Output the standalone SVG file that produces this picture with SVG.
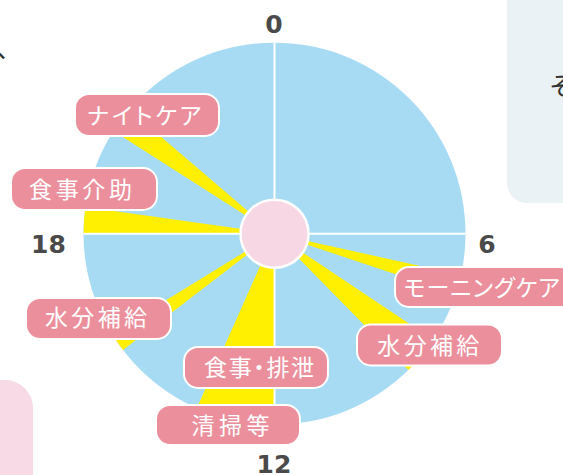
<svg xmlns="http://www.w3.org/2000/svg" width="563" height="475" viewBox="0 0 563 475">
  <style>
    .lbl rect { fill: #EC8F9D; stroke: #FFFFFF; stroke-width: 2; }
    .lbl text { fill: #FFFFFF; font-family: "Noto Sans CJK JP", "Noto Sans", sans-serif; font-size: 23px; text-anchor: middle; font-feature-settings: "palt"; }
    .hr { fill: #4A4A4A; font-family: "DejaVu Sans", "Liberation Sans", sans-serif; font-size: 25px; font-weight: bold; text-anchor: middle; }
    .wedge { fill: #FFEF00; }
    .axis { stroke: #FFFFFF; stroke-width: 2; }
    .frag { fill: #333333; font-family: "Noto Sans CJK JP", sans-serif; font-size: 26px; }
  </style>
  <rect width="563" height="475" fill="#FFFFFF"/>
  <!-- background panels -->
  <rect x="507" y="-30" width="100" height="233" rx="20" fill="#EBF2F6"/>
  <rect x="-60" y="380" width="93" height="150" rx="28" fill="#F8DAE6"/>
  <text class="frag" x="-4" y="58">、</text>
  <text class="frag" x="549" y="96">そ</text>

  <g id="clock">
    <circle cx="274.5" cy="233.7" r="191" fill="#A7DBF4"/>
    <g id="wedges">
      <path class="wedge" d="M274.5 233.7 L113.4 131.1 A191 191 0 0 1 129.3 109.7 Z"/>
      <path class="wedge" d="M274.5 233.7 L83.5 233.7 A191 191 0 0 1 85.4 207.1 Z"/>
      <path class="wedge" d="M274.5 233.7 L123.0 350.0 A191 191 0 0 1 111.7 333.5 Z"/>
      <path class="wedge" d="M274.5 233.7 L274.5 424.7 A191 191 0 0 1 196.8 408.2 Z"/>
      <path class="wedge" d="M274.5 233.7 L461.0 275.0 A191 191 0 0 1 455.6 294.3 Z"/>
      <path class="wedge" d="M274.5 233.7 L433.3 339.8 A191 191 0 0 1 408.4 369.9 Z"/>
    </g>
    <g id="axes">
      <line class="axis" x1="274.5" y1="42.7" x2="274.5" y2="424.7"/>
      <line class="axis" x1="83.5" y1="233.7" x2="465.5" y2="233.7"/>
    </g>
    <circle id="hub" cx="274.5" cy="233.7" r="34" fill="#F7D7E4" stroke="#FFFFFF" stroke-width="2.5"/>
  </g>

  <g id="hours">
    <text class="hr" x="274" y="33.3">0</text>
    <text class="hr" x="487" y="252.7">6</text>
    <text class="hr" x="274" y="473.3">12</text>
    <text class="hr" x="48.5" y="252.7">18</text>
  </g>

  <g id="label-nightcare" class="lbl">
    <rect x="75" y="94" width="144" height="42" rx="14"/>
    <text x="144.2" y="123.7" textLength="114" lengthAdjust="spacing">ナイトケア</text>
  </g>
  <g id="label-meal-assist" class="lbl">
    <rect x="11" y="168" width="146" height="42" rx="14"/>
    <text x="80.5" y="197.9" textLength="103" lengthAdjust="spacing">食事介助</text>
  </g>
  <g id="label-water-left" class="lbl">
    <rect x="26" y="298" width="145" height="41" rx="14"/>
    <text x="96" y="325.7" textLength="102" lengthAdjust="spacing">水分補給</text>
  </g>
  <g id="label-meal-excretion" class="lbl">
    <rect x="184" y="347" width="144" height="41" rx="14"/>
    <text x="259" y="375.9" textLength="110" lengthAdjust="spacing">食事・排泄</text>
  </g>
  <g id="label-cleaning" class="lbl">
    <rect x="156" y="405" width="144" height="40" rx="14"/>
    <text x="230.5" y="434.2" textLength="78" lengthAdjust="spacing">清掃等</text>
  </g>
  <g id="label-morningcare" class="lbl">
    <rect x="395" y="267" width="180" height="40" rx="14"/>
    <text x="481.7" y="296.2" textLength="156" lengthAdjust="spacing">モーニングケア</text>
  </g>
  <g id="label-water-right" class="lbl">
    <rect x="357" y="324.5" width="145" height="41" rx="14"/>
    <text x="428.3" y="353.7" textLength="102" lengthAdjust="spacing">水分補給</text>
  </g>
</svg>
